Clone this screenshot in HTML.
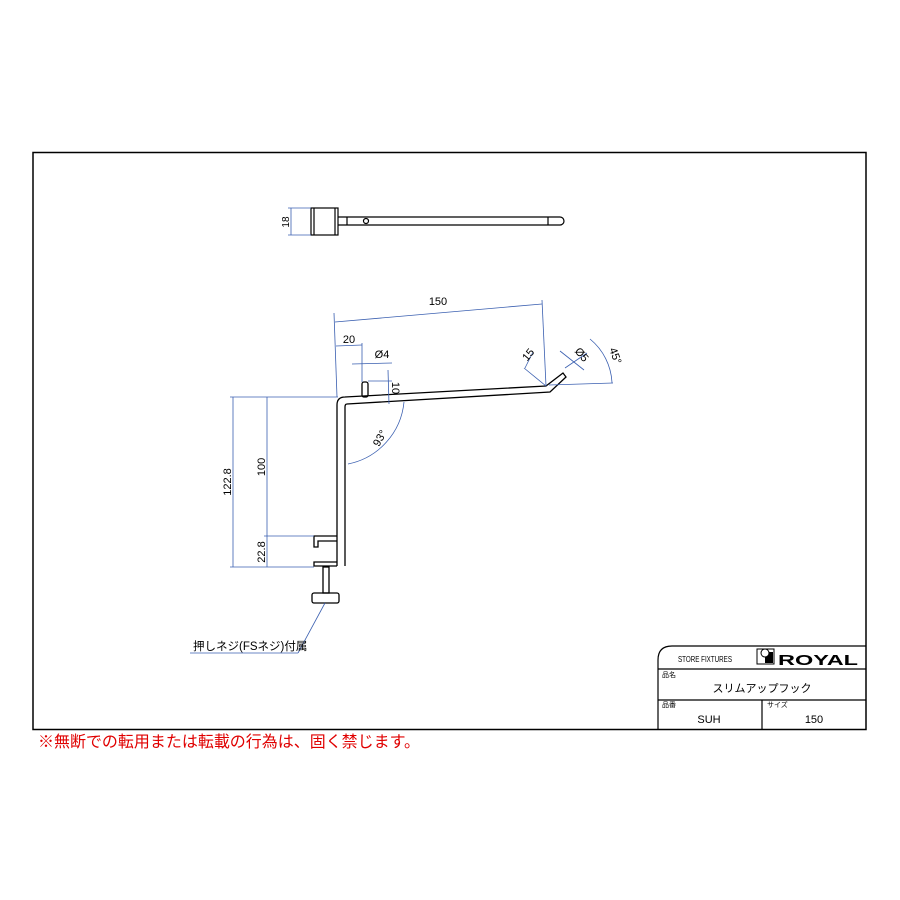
<!DOCTYPE html>
<html><head><meta charset="utf-8"><style>
body{margin:0;background:#fff}
svg{display:block}
text{font-family:"Liberation Sans","Noto Sans CJK JP",sans-serif}
</style></head><body>
<svg width="900" height="900" viewBox="0 0 900 900" xmlns="http://www.w3.org/2000/svg">
<rect x="33" y="152.5" width="833" height="577" fill="none" stroke="#000" stroke-width="1.5"/>
<!-- top view -->
<g stroke="#000" fill="none" stroke-width="1.2">
<rect x="311" y="208" width="27" height="27"/>
<line x1="314" y1="208" x2="314" y2="235"/><line x1="335" y1="208" x2="335" y2="235"/>
<path d="M338 217 H560 A4 4 0 0 1 560 225 H338"/>
<line x1="347" y1="217" x2="347" y2="225"/><line x1="548" y1="217" x2="548" y2="225"/>
<circle cx="366" cy="221" r="2.5"/>
</g>
<g stroke="#3a5fb0" stroke-width="0.8" fill="none">
<line x1="288" y1="208" x2="311" y2="208"/><line x1="288" y1="235" x2="311" y2="235"/>
<line x1="291" y1="208" x2="291" y2="235"/>
</g>
<text transform="translate(289,222) rotate(-90)" font-size="10" text-anchor="middle">18</text>
<!-- side view -->
<g stroke="#000" fill="none" stroke-width="1.3">
<path d="M337 566 V405 Q337 397 345 397 L546 386 L563 373 L566 377 L550 392 L347 404 Q345 404 345 407 V566"/>
<rect x="362" y="382" width="6" height="15" rx="2"/>
<path d="M337 536 H314 V547 H318 V541 H337"/>
<path d="M337 566 H314 V562 H337"/>
<rect x="323" y="567" width="6" height="26"/>
<rect x="312" y="593" width="27" height="10" rx="2"/>
</g>
<!-- dims -->
<g stroke="#3a5fb0" stroke-width="0.8" fill="none">
<line x1="230" y1="397" x2="338" y2="397"/>
<line x1="230" y1="567" x2="314" y2="567"/>
<line x1="264" y1="536" x2="314" y2="536"/>
<line x1="233" y1="397" x2="233" y2="567"/>
<line x1="267" y1="397" x2="267" y2="567"/>
<line x1="334" y1="313" x2="337" y2="397"/>
<line x1="542" y1="300" x2="546" y2="386"/>
<line x1="335" y1="322" x2="542" y2="304"/>
<line x1="336" y1="346" x2="362" y2="345"/>
<line x1="362" y1="343" x2="362" y2="382"/>
<line x1="352" y1="364" x2="392" y2="363"/>
<line x1="368" y1="381" x2="392" y2="381"/>
<line x1="388" y1="370" x2="389" y2="404"/>
<path d="M348 464 A70 70 0 0 0 404 402"/>
<line x1="524" y1="368" x2="546" y2="386"/>
<line x1="533" y1="352" x2="525" y2="368"/>
<line x1="560" y1="351" x2="584" y2="370"/>
<line x1="565" y1="368" x2="587" y2="353"/>
<path d="M590 339 A60 60 0 0 1 612 383"/>
<line x1="549" y1="385" x2="613" y2="383"/>
<line x1="325" y1="603" x2="298" y2="653"/>
<line x1="190" y1="653" x2="298" y2="653"/>
</g>
<g font-size="11" fill="#000">
<text x="438" y="305" text-anchor="middle">150</text>
<text x="349" y="343" text-anchor="middle">20</text>
<text x="382" y="358" text-anchor="middle">Ø4</text>
<text transform="translate(392,388) rotate(90)" text-anchor="middle">10</text>
<text transform="translate(383,440) rotate(-60)" text-anchor="middle">93°</text>
<text transform="translate(531,357) rotate(-50)" text-anchor="middle">15</text>
<text transform="translate(579,357) rotate(50)" text-anchor="middle">Ø5</text>
<text transform="translate(612,357) rotate(70)" text-anchor="middle">45°</text>
<text transform="translate(231,482) rotate(-90)" text-anchor="middle">122.8</text>
<text transform="translate(265,467) rotate(-90)" text-anchor="middle">100</text>
<text transform="translate(265,552) rotate(-90)" text-anchor="middle">22.8</text>
<text x="193" y="650" font-size="11.5">押しネジ(FSネジ)付属</text>
</g>
<!-- title block -->
<g stroke="#000" fill="none" stroke-width="1.2">
<path d="M658 730 V660 Q658 646 672 646 H866"/>
<line x1="658" y1="669" x2="866" y2="669"/>
<line x1="658" y1="700" x2="866" y2="700"/>
<line x1="762" y1="700" x2="762" y2="730"/>
<rect x="757" y="649" width="17" height="15" stroke-width="1"/>
</g>
<rect x="765" y="652" width="8" height="11" fill="#000"/>
<circle cx="765" cy="653" r="4" fill="#fff" stroke="#000"/>
<text x="678" y="662" font-size="8" textLength="54" lengthAdjust="spacingAndGlyphs">STORE FIXTURES</text>
<text x="778" y="665" font-size="15" font-weight="bold" textLength="80" lengthAdjust="spacingAndGlyphs">ROYAL</text>
<text x="662" y="677" font-size="7">品名</text>
<text x="762" y="692" font-size="11" text-anchor="middle">スリムアップフック</text>
<text x="662" y="707" font-size="7">品番</text>
<text x="709" y="723" font-size="11" text-anchor="middle">SUH</text>
<text x="767" y="707" font-size="7">サイズ</text>
<text x="814" y="723" font-size="11" text-anchor="middle">150</text>
<text x="38" y="747" font-size="16" fill="#e00000" textLength="382" lengthAdjust="spacingAndGlyphs">※無断での転用または転載の行為は、固く禁じます。</text>
</svg>
</body></html>
